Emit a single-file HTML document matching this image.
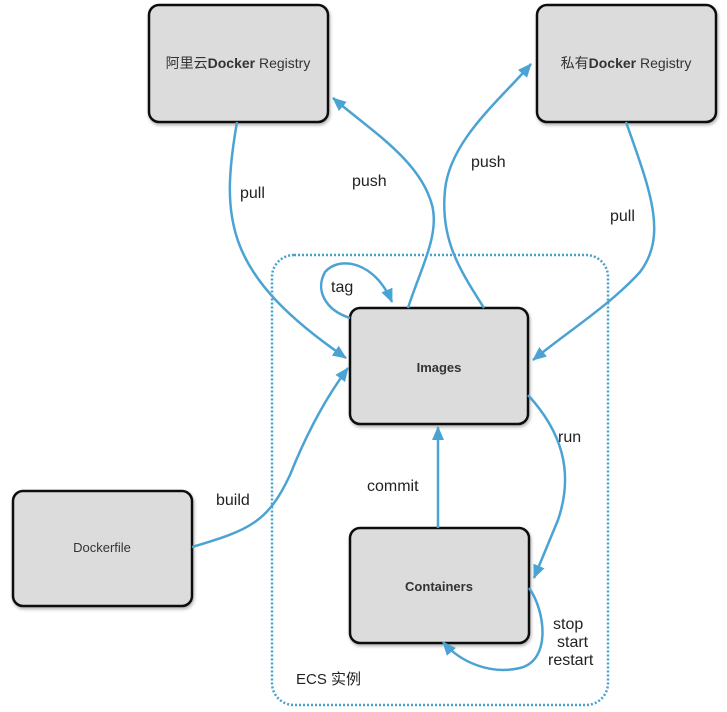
<!DOCTYPE html>
<html><head><meta charset="utf-8"><style>
body{margin:0;background:#fff;width:727px;height:712px;overflow:hidden}
svg{display:block}
text{font-family:"Liberation Sans","Noto Sans CJK SC",sans-serif}
</style></head><body>
<svg width="727" height="712" viewBox="0 0 727 712" xmlns="http://www.w3.org/2000/svg">
<defs>
<marker id="a" viewBox="0 0 14 12" refX="13" refY="6" markerWidth="14" markerHeight="12" markerUnits="userSpaceOnUse" orient="auto">
<path d="M0,0 L14,6 L0,12 z" fill="#4ba3d3"/></marker>
<filter id="s" x="-10%" y="-10%" width="130%" height="130%"><feDropShadow dx="1" dy="2" stdDeviation="1.5" flood-color="#000" flood-opacity="0.3"/></filter>
</defs>
<rect x="272" y="255" width="336" height="450" rx="22" fill="none" stroke="#4a9fcc" stroke-width="2.5" stroke-dasharray="2,2"/>
<g fill="#dcdcdc" stroke="#111" stroke-width="2.5" filter="url(#s)">
<rect x="149" y="5" width="179" height="117" rx="10"/>
<rect x="537" y="5" width="179" height="117" rx="10"/>
<rect x="350" y="308" width="178" height="116" rx="10"/>
<rect x="350" y="528" width="179" height="115" rx="10"/>
<rect x="13" y="491" width="179" height="115" rx="10"/>
</g>
<g fill="none" stroke="#4ba3d3" stroke-width="2.5" marker-end="url(#a)">
<path d="M237,122 C220,220 225,275 346,358"/>
<path d="M408,308 C420,270 440,235 432,205 C420,160 370,130 333,98"/>
<path d="M484,308 C460,270 440,240 445,190 C450,140 500,100 531,64"/>
<path d="M626,122 C650,190 668,235 640,272 C610,305 570,330 533,360"/>
<path d="M350,318 C325,310 315,290 325,272 C340,255 375,262 392,302"/>
<path d="M192,547 C250,530 268,522 290,475 C310,425 330,392 348,368"/>
<path d="M438,528 L438,427"/>
<path d="M528,395 C560,430 575,470 558,520 L534,578"/>
<path d="M529,588 C545,610 552,660 520,668 C490,675 460,662 443,642"/>
</g>
<g font-size="14" fill="#333" text-anchor="middle">
<text x="238" y="68">阿里云<tspan font-weight="bold">Docker</tspan> Registry</text>
<text x="626" y="68">私有<tspan font-weight="bold">Docker</tspan> Registry</text>
<text x="439" y="372" font-weight="bold" font-size="13">Images</text>
<text x="439" y="591" font-weight="bold" font-size="13">Containers</text>
<text x="102" y="552" font-size="13">Dockerfile</text>
</g>
<g font-size="16" fill="#222">
<text x="240" y="198">pull</text>
<text x="352" y="186">push</text>
<text x="471" y="167">push</text>
<text x="610" y="221">pull</text>
<text x="331" y="292">tag</text>
<text x="558" y="442">run</text>
<text x="367" y="491">commit</text>
<text x="216" y="505">build</text>
<text x="553" y="629">stop</text>
<text x="557" y="647">start</text>
<text x="548" y="665">restart</text>
<text x="296" y="684" font-size="15">ECS 实例</text>
</g>
</svg>
</body></html>
